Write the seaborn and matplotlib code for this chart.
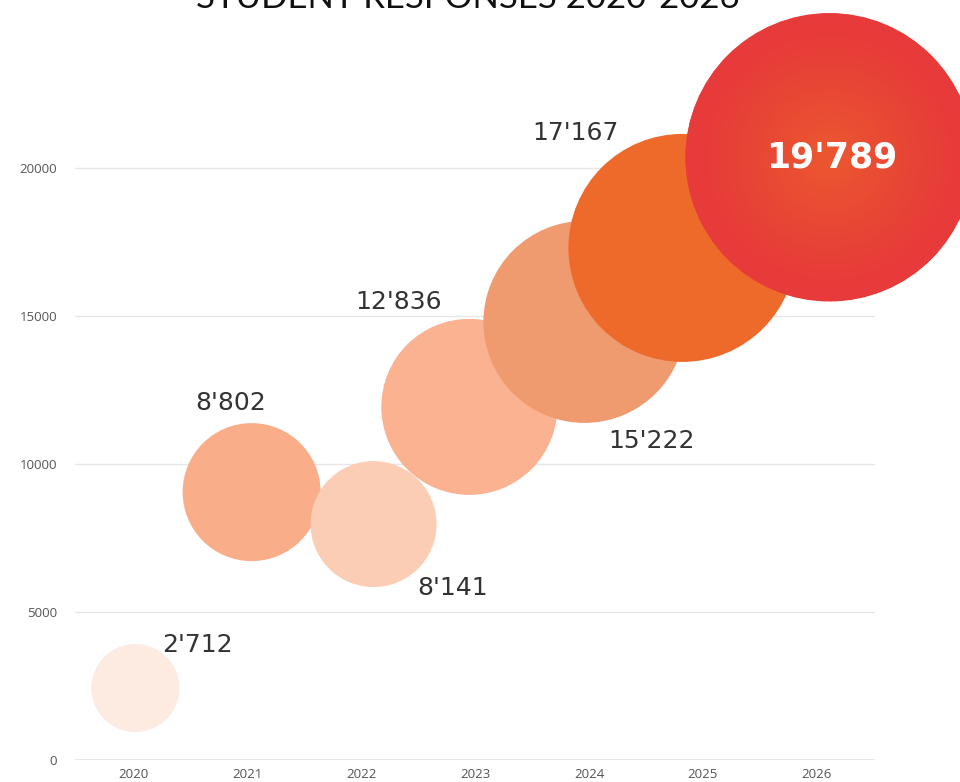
import numpy as np
import pandas as pd
import matplotlib
matplotlib.use("Agg")
import matplotlib.pyplot as plt
import matplotlib.colors as mcolors
import seaborn as sns

# ---- data ----
years = [2020, 2021, 2022, 2023, 2024, 2025, 2026]
responses = [2712, 8802, 8141, 12836, 15222, 17167, 19789]
bubble_x = [2020.02, 2021.04, 2022.11, 2022.95, 2023.96, 2024.82, 2026.11]
bubble_y = [2430, 9050, 7970, 11930, 14800, 17300, 20370]
bubble_radius_px = [44, 69, 63, 88, 101, 114, 144]
colors = ["#FDEAE0", "#F9AD89", "#FCCDB5", "#FAB291", "#F09A70", "#EE6A2B", "#E8443A"]
yticks = [0, 5000, 10000, 15000, 20000]
title = "STUDENT RESPONSES 2020-2026"

df = pd.DataFrame({"year": years, "x": bubble_x, "y": bubble_y,
                   "responses": responses})

sns.set_theme(style="white")
plt.rcParams["font.family"] = ["DejaVu Sans"]

W, H = 960, 782
fig = plt.figure(figsize=(W / 100, H / 100), dpi=100)
ax = fig.add_axes([75 / W, (H - 760) / H, 800 / W, 740 / H])

px_to_pt = 72 / 100
sizes = {yr: (2 * r * px_to_pt) ** 2 for yr, r in zip(years, bubble_radius_px)}
palette = dict(zip(years, colors))

sns.scatterplot(data=df, x="x", y="y", hue="year", size="year",
                palette=palette, sizes=sizes, legend=False, ax=ax,
                linewidth=0, alpha=1, clip_on=False, zorder=3)

# soft radial gradient on the last bubble
edge = np.array(mcolors.to_rgb("#E73A3A"))
center = np.array(mcolors.to_rgb("#EE5A30"))
n = 30
r_last = bubble_radius_px[-1]
for i in range(n):
    f = i / (n - 1)
    rr = r_last * (1 - 0.92 * f)
    col = edge * (1 - f) + center * f
    ax.scatter([bubble_x[-1]], [bubble_y[-1]], s=(2 * rr * px_to_pt) ** 2,
               color=col, linewidth=0, clip_on=False, zorder=4,
               alpha=0.3 if i else 1)

ax.set_xlim(2019.49, 2026.51)
ax.set_ylim(0, 25000)
ax.set_yticks(yticks)
ax.set_yticklabels([str(t) for t in yticks])
ax.set_xticks(years)
ax.set_xticklabels([str(y) for y in years])
for t in yticks:
    ax.axhline(t, color="#E6E6E6", lw=1.3 if t == 0 else 1.0, zorder=0)
for s in ax.spines.values():
    s.set_visible(False)
ax.tick_params(axis="both", length=0, labelsize=9.5, colors="#555555")
ax.tick_params(axis="y", pad=13)
ax.tick_params(axis="x", pad=6)
for lab in ax.get_xticklabels() + ax.get_yticklabels():
    lab.set_family(["Open Sans", "DejaVu Sans"])
ax.set_xlabel("")
ax.set_ylabel("")


def fmt(v):
    return f"{v:,}".replace(",", "'")


# label offsets (pixels) relative to bubble centers
offsets = [(62, 43), (-21, 89), (79, -64), (-71, 105), (67, -119), (-107, 115), (2, 0)]
for i, (yr, v) in enumerate(zip(years, responses)):
    dx, dy = offsets[i]
    if yr == 2026:
        ax.annotate(fmt(v), (bubble_x[i], bubble_y[i]), xytext=(dx * px_to_pt, dy * px_to_pt),
                    textcoords="offset points", ha="center", va="center",
                    fontsize=25, fontweight="bold", color="white", zorder=6,
                    annotation_clip=False)
    else:
        ax.annotate(fmt(v), (bubble_x[i], bubble_y[i]), xytext=(dx * px_to_pt, dy * px_to_pt),
                    textcoords="offset points", ha="center", va="center",
                    fontsize=18, color="#333333", zorder=6, annotation_clip=False)

fig.text(468 / W, 1 - 8 / H, title, ha="center", va="baseline",
         fontsize=25, color="#111111", family=["Lato", "DejaVu Sans"])

fig.savefig("out.png", dpi=100, facecolor="white")
